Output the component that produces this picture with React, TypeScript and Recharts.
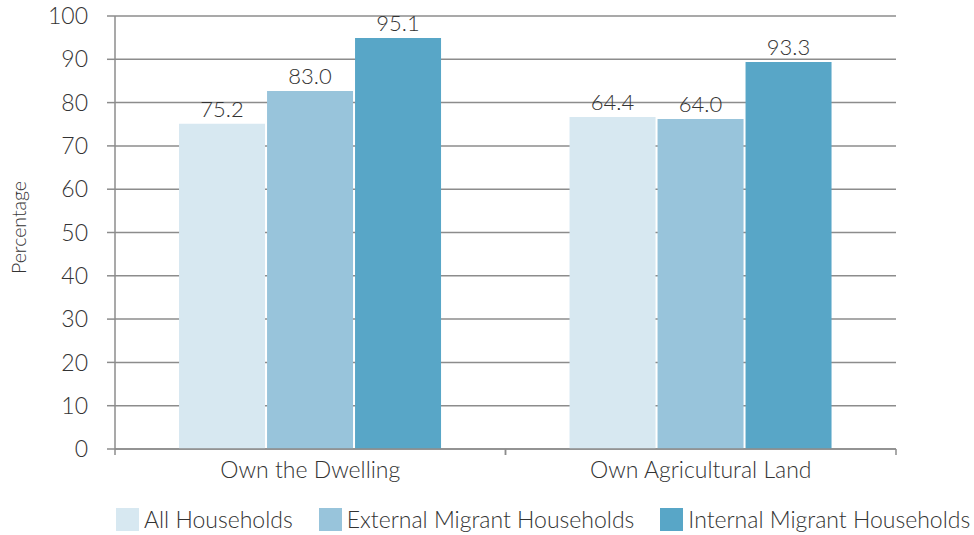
import React from "react";
import {
  BarChart,
  Bar,
  XAxis,
  YAxis,
  CartesianGrid,
  Legend,
  LabelList,
} from "recharts";

// categories + series (bar heights as drawn) + printed labels
const categories = ["Own the Dwelling", "Own Agricultural Land"];
const allHouseholds = [75.1, 76.7];
const externalMigrant = [82.7, 76.2];
const internalMigrant = [94.9, 89.4];
const allLabels = ["75.2", "64.4"];
const externalLabels = ["83.0", "64.0"];
const internalLabels = ["95.1", "93.3"];
const yTicks = [0, 10, 20, 30, 40, 50, 60, 70, 80, 90, 100];

const series = [
  { key: "all", label: "labelAll", name: "All Households", color: "#d7e8f1" },
  { key: "ext", label: "labelExt", name: "External Migrant Households", color: "#98c4db" },
  { key: "int", label: "labelInt", name: "Internal Migrant Households", color: "#58a6c7" },
];

const data = categories.map((c, i) => ({
  cat: c,
  all: allHouseholds[i],
  ext: externalMigrant[i],
  int: internalMigrant[i],
  labelAll: allLabels[i],
  labelExt: externalLabels[i],
  labelInt: internalLabels[i],
}));

const FONT = "Lato, 'DejaVu Sans', sans-serif";
const TEXT = "#333333";
const AXIS = "#8c8c8c";

const CategoryTick = (props: any) => {
  const { x, y, payload } = props;
  const half = payload && payload.offset ? payload.offset : 195;
  return (
    <g>
      <line x1={x - half} x2={x - half} y1={y} y2={y + 6} stroke={AXIS} strokeWidth={1.5} />
      <line x1={x + half} x2={x + half} y1={y} y2={y + 6} stroke={AXIS} strokeWidth={1.5} />
      <text
        x={x}
        y={y + 29}
        textAnchor="middle"
        fontSize={23}
        fontFamily={FONT}
        fontWeight={300}
        fill={TEXT}
      >
        {payload.value}
      </text>
    </g>
  );
};

const YLabel = (props: any) => {
  const vb = props.viewBox || { x: 0, y: 16, height: 433 };
  const cx = vb.x + 18;
  const cy = vb.y + vb.height / 2 - 5;
  return (
    <text
      x={cx}
      y={cy}
      transform={`rotate(-90, ${cx}, ${cy})`}
      textAnchor="middle"
      dominantBaseline="central"
      fontSize={19.5}
      fontFamily={FONT}
      fontWeight={300}
      fill={TEXT}
    >
      Percentage
    </text>
  );
};

const LegendContent = () => (
  <div
    style={{
      display: "flex",
      alignItems: "center",
      height: 32,
      paddingLeft: 116,
      fontFamily: FONT,
      fontWeight: 300,
      fontSize: 23,
      color: TEXT,
      whiteSpace: "nowrap",
    }}
  >
    {series.map((s) => (
      <div key={s.key} style={{ display: "flex", alignItems: "center", marginRight: 26 }}>
        <span style={{ width: 23, height: 23, background: s.color, display: "inline-block", marginRight: 5 }} />
        <span>{s.name}</span>
      </div>
    ))}
  </div>
);

export default function App() {
  return (
    <div style={{ position: "absolute", left: 0, top: 0, background: "#fff" }}>
      <BarChart
        width={974}
        height={535}
        data={data}
        margin={{ top: 16, right: 78, left: 0, bottom: 0 }}
        barCategoryGap="16.4%"
        barGap={2}
      >
        <CartesianGrid vertical={false} stroke={AXIS} strokeWidth={1.5} />
        <XAxis
          dataKey="cat"
          height={54}
          tickSize={0}
          tickMargin={0}
          tickLine={false}
          axisLine={{ stroke: AXIS, strokeWidth: 1.5 }}
          tick={<CategoryTick />}
          interval={0}
        />
        <YAxis
          width={115}
          domain={[0, 100]}
          ticks={yTicks}
          interval={0}
          tickSize={8}
          tickMargin={19}
          axisLine={{ stroke: AXIS, strokeWidth: 1.5 }}
          tickLine={{ stroke: AXIS, strokeWidth: 1.5 }}
          tick={{ fill: TEXT, fontSize: 23, fontFamily: FONT, fontWeight: 300 }}
          label={<YLabel />}
        />
        <Legend
          verticalAlign="bottom"
          wrapperStyle={{ left: 0, width: 974, height: 32 }}
          content={<LegendContent />}
        />
        {series.map((s) => (
          <Bar key={s.key} dataKey={s.key} name={s.name} fill={s.color} isAnimationActive={false}>
            <LabelList
              dataKey={s.label}
              position="top"
              offset={7}
              fill={TEXT}
              fontSize={22}
              fontFamily={FONT}
              fontWeight={300}
            />
          </Bar>
        ))}
      </BarChart>
    </div>
  );
}
